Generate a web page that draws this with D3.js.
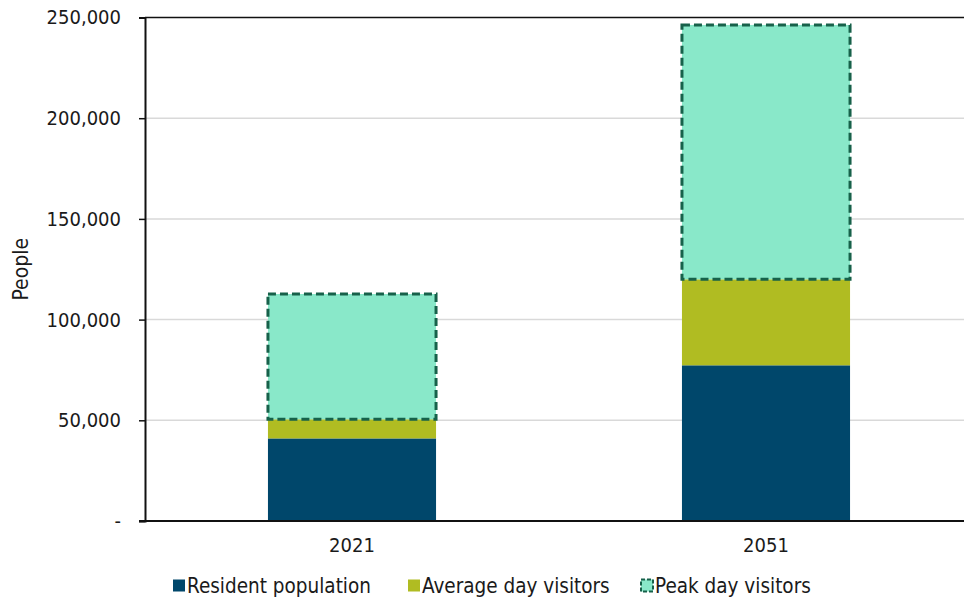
<!DOCTYPE html>
<html>
<head>
<meta charset="utf-8">
<script src="https://cdn.jsdelivr.net/npm/d3@7"></script>
<style>
  body { margin: 0; background: #fff; }
  svg text { font-family: "DejaVu Sans Condensed", "DejaVu Sans", sans-serif; fill: #1a1a1a; }
</style>
</head>
<body>
<div id="chart"></div>
<script>
// data
var years = ["2021", "2051"];
var resident = [41000, 77300];
var avgVisitors = [9500, 42700];
var peakVisitors = [62200, 126300];
var seriesNames = ["Resident population", "Average day visitors", "Peak day visitors"];
var yTicks = [0, 50000, 100000, 150000, 200000, 250000];

var colors = ["#00476b", "#b0bc22", "#89e8c9"];
var dashColor = "#17614a";

var W = 964, H = 599;
var margin = {top: 17.5, right: -9, bottom: 78, left: 145};
var width = W - margin.left - margin.right,
    height = H - margin.top - margin.bottom;

var svg = d3.select("#chart")
  .append("svg")
    .attr("width", W)
    .attr("height", H)
  .append("g")
    .attr("transform", "translate(" + margin.left + "," + margin.top + ")");

var x = d3.scaleBand()
  .domain(years)
  .range([0, width])
  .paddingInner(0.594)
  .paddingOuter(0.297);

var y = d3.scaleLinear()
  .domain([0, 250000])
  .range([height, 0]);

// gridlines
svg.selectAll("grid")
  .data(yTicks.slice(1, -1))
  .enter()
  .append("line")
    .attr("x1", 0).attr("x2", width)
    .attr("y1", function(d) { return y(d); })
    .attr("y2", function(d) { return y(d); })
    .attr("stroke", "#d9d9d9")
    .attr("stroke-width", 1.5);

// stack the three series
var rows = years.map(function(yr, i) {
  return {year: yr, s0: resident[i], s1: avgVisitors[i], s2: peakVisitors[i]};
});
var stacked = d3.stack().keys(["s0", "s1", "s2"])(rows);

stacked.forEach(function(layer, k) {
  svg.selectAll("bar" + k)
    .data(layer)
    .enter()
    .append("rect")
      .attr("x", function(d) { return x(d.data.year); })
      .attr("width", x.bandwidth())
      .attr("y", function(d) { return y(d[1]); })
      .attr("height", function(d) { return y(d[0]) - y(d[1]); })
      .attr("fill", colors[k])
      .attr("stroke", k == 2 ? dashColor : "none")
      .attr("stroke-width", k == 2 ? 3 : 0)
      .attr("stroke-dasharray", k == 2 ? "8,4" : null);
});

// top border line
svg.append("line")
  .attr("x1", 0).attr("x2", width)
  .attr("y1", y(250000)).attr("y2", y(250000))
  .attr("stroke", "#111")
  .attr("stroke-width", 1.5);

// Y axis
var yAxis = svg.append("g")
  .call(d3.axisLeft(y)
    .tickValues(yTicks)
    .tickSize(6)
    .tickPadding(18)
    .tickFormat(function(d) { return d === 0 ? "-" : d3.format(",")(d); }));
yAxis.select(".domain").attr("stroke", "#111").attr("stroke-width", 2);
yAxis.selectAll(".tick line").attr("stroke", "#111").attr("stroke-width", 1.5);
yAxis.selectAll("text").style("font-size", "20px").attr("fill", "#1a1a1a");

// X axis
var xAxis = svg.append("g")
  .attr("transform", "translate(0," + height + ")")
  .call(d3.axisBottom(x).tickSize(0).tickPadding(17));
xAxis.select(".domain").attr("stroke", "#111").attr("stroke-width", 2)
  .attr("d", "M-6,0H" + width);
xAxis.selectAll("text").style("font-size", "20px").attr("fill", "#1a1a1a");

// y label
svg.append("text")
  .attr("transform", "rotate(-90)")
  .attr("x", -height / 2)
  .attr("y", -117)
  .attr("text-anchor", "middle")
  .style("font-size", "21px")
  .text("People");

// legend
var legendX = [173, 408, 641];
var legend = svg.selectAll("legend")
  .data(seriesNames)
  .enter()
  .append("g")
    .attr("transform", function(d, i) {
      return "translate(" + (legendX[i] - margin.left) + "," + (586 - margin.top) + ")";
    });
legend.append("rect")
  .attr("x", 0).attr("y", -6.5)
  .attr("width", 12).attr("height", 12)
  .attr("fill", function(d, i) { return colors[i]; })
  .attr("stroke", function(d, i) { return i == 2 ? dashColor : "none"; })
  .attr("stroke-width", 2)
  .attr("stroke-dasharray", function(d, i) { return i == 2 ? "4,2" : null; });
legend.append("text")
  .attr("x", 14)
  .attr("y", 0)
  .attr("dy", "0.35em")
  .style("font-size", "20.5px")
  .text(function(d) { return d; });
</script>
</body>
</html>
